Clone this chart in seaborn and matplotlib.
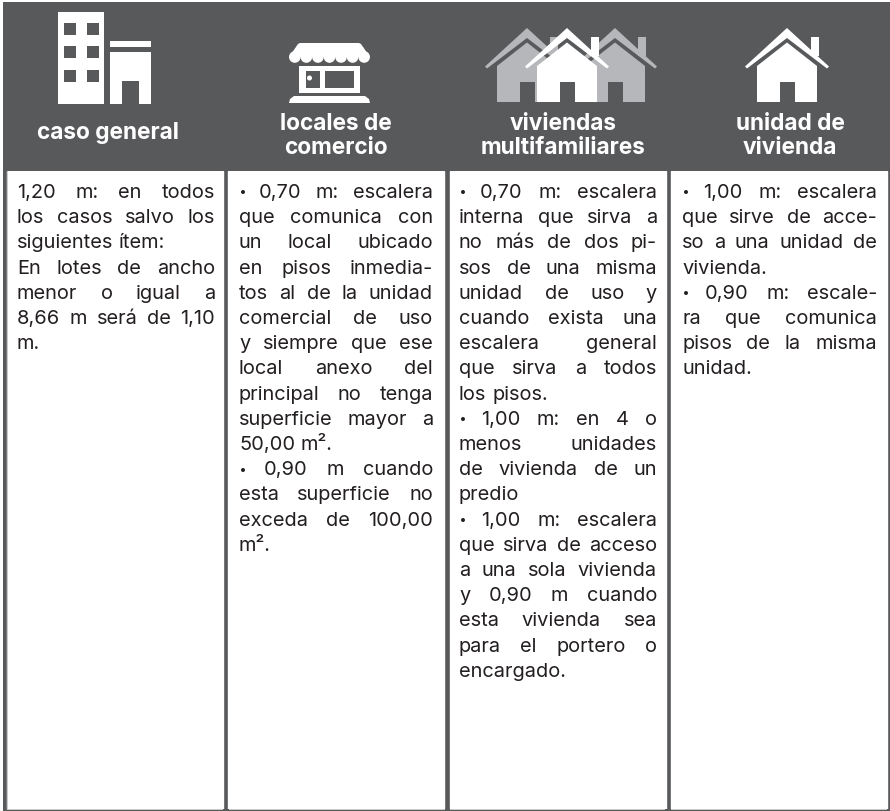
"""
Anchos minimos de escalera por tipo de edificacion - recreated with seaborn
"""

import matplotlib
matplotlib.use("Agg")
import matplotlib.pyplot as plt
import seaborn as sns
from matplotlib.patches import Rectangle, Polygon, Circle

# Data
columns = ["caso general", "locales de\ncomercio", "viviendas\nmultifamiliares", "unidad de\nvivienda"]

caso_general = [
    ["1,20 m: en todos", "los casos salvo los", "siguientes ítem:"],
    ["En lotes de ancho", "menor o igual a", "8,66 m será de 1,10", "m."],
]
locales = [
    ["· 0,70 m: escalera", "que comunica con", "un local ubicado", "en pisos inmedia-",
     "tos al de la unidad", "comercial de uso", "y siempre que ese", "local anexo del",
     "principal no tenga", "superficie mayor a", "50,00 m²."],
    ["· 0,90 m cuando", "esta superficie no", "exceda de 100,00", "m²."],
]
multifamiliares = [
    ["· 0,70 m: escalera", "interna que sirva a", "no más de dos pi-", "sos de una misma",
     "unidad de uso y", "cuando exista una", "escalera general", "que sirva a todos", "los pisos."],
    ["· 1,00 m: en 4 o", "menos unidades", "de vivienda de un", "predio"],
    ["· 1,00 m: escalera", "que sirva de acceso", "a una sola vivienda", "y 0,90 m cuando",
     "esta vivienda sea", "para el portero o", "encargado."],
]
unidad = [
    ["· 1,00 m: escalera", "que sirve de acce-", "so a una unidad de", "vivienda."],
    ["· 0,90 m: escale-", "ra que comunica", "pisos de la misma", "unidad."],
]
column_text = [caso_general, locales, multifamiliares, unidad]

# Style
DARK = "#58595b"
LIGHT = "#b6b7ba"
INK = "#231f20"
W, H = 890, 811
FONT = "Inter"
BODY_SIZE = 14.4

sns.set_theme(style="white")
plt.rcParams["font.family"] = [FONT, "DejaVu Sans"]

fig = plt.figure(figsize=(W / 100, H / 100), dpi=100, facecolor="white")
fig.add_artist(Rectangle((3 / W, 0), (W - 3) / W, (H - 2) / H, transform=fig.transFigure,
                         facecolor=DARK, edgecolor="none", zorder=-1))

# white panels are one bar per column
panel_top, panel_bottom = 171, 809
panel_ax = fig.add_axes([4.35 / W, (H - panel_bottom) / H, 885.2 / W, (panel_bottom - panel_top) / H])
panel_ax.patch.set_alpha(0)
sns.barplot(x=columns, y=[panel_bottom - panel_top] * 4, color="white", saturation=1,
            width=0.976, ax=panel_ax)
panel_ax.set_ylim(0, panel_bottom - panel_top)
panel_ax.set_axis_off()

# overlay in pixel coordinates for icons and text
ax = fig.add_axes([0, 0, 1, 1])
ax.set_xlim(0, W)
ax.set_ylim(H, 0)
ax.patch.set_alpha(0)
ax.set_axis_off()


def rect(x0, y0, x1, y1, color):
    ax.add_patch(Rectangle((x0, y0), x1 - x0, y1 - y0, facecolor=color, edgecolor="none"))


def poly(points, color):
    ax.add_patch(Polygon(points, closed=True, facecolor=color, edgecolor="none"))


def draw_building():
    rect(58, 12, 104, 104, "white")
    for wy in (23, 46, 70):
        for wx in (64, 87):
            rect(wx, wy, wx + 11.5, wy + 11.5, DARK)
    rect(110, 41, 151, 47, "white")
    rect(110, 52, 151, 104, "white")
    rect(122, 81, 139, 104, DARK)


def draw_shop():
    poly([(300, 43), (359, 43), (361, 44), (370, 57), (289, 57), (298, 44)], "white")
    for i in range(7):
        ax.add_patch(Circle((294.8 + i * 11.56, 57), 5.8, facecolor="white", edgecolor="none"))
    rect(299, 66, 360, 93, "white")
    rect(306, 71, 320, 88, DARK)
    rect(324.5, 71, 354, 88, DARK)
    ax.add_patch(Circle((309.5, 78), 2.5, facecolor="white", edgecolor="none"))
    poly([(294, 96), (365, 96), (369, 99), (370, 103), (289, 103), (290, 99)], "white")


def draw_house(cx, color, chimney_dx=24):
    rect(cx + chimney_dx, 37, cx + chimney_dx + 8, 56, color)
    poly([(cx - 42, 66.5), (cx, 28), (cx + 42, 66.5), (cx + 40, 68.5), (cx, 38), (cx - 40, 68.5)], color)
    poly([(cx, 42.5), (cx + 30, 66), (cx + 30, 102), (cx - 30, 102), (cx - 30, 66)], color)
    rect(cx - 7.5, 82, cx + 7.5, 102, DARK)


draw_building()
draw_shop()
draw_house(527, LIGHT, 23)
draw_house(615, LIGHT, 23)
draw_house(567, "white")
draw_house(787, "white")

# thin light edge under the panels
for px0, px1 in [(7, 223), (229, 445), (450, 665), (671, 887)]:
    rect(px0, 809, px1, 810, "#c9cacb")
rect(7, 171, 8, 810, "#c9cacb")

# column titles
title_x = [108, 335.5, 563, 790]
for name, tx in zip(columns, title_x):
    parts = name.split("\n")
    baselines = [139] if len(parts) == 1 else [130, 154]
    for part, by in zip(parts, baselines):
        ax.text(tx, by, part, color="white", fontsize=16.3, fontweight="bold",
                ha="center", va="baseline")

# body text, justified line by line
text_x = [(17, 215), (239, 433), (459, 657), (682, 877)]
first_baseline = 198
line_pitch = 25.2

renderer = fig.canvas.get_renderer()


def word_width(word):
    t = ax.text(0, 0, word, fontsize=BODY_SIZE, color=INK)
    w = t.get_window_extent(renderer).width
    t.remove()
    return w


space = word_width("a a") - 2 * word_width("a")

for paragraphs, (x0, x1) in zip(column_text, text_x):
    row = 0
    for para in paragraphs:
        for i, line in enumerate(para):
            by = first_baseline + row * line_pitch
            words = line.split(" ")
            widths = [word_width(w) for w in words]
            if i < len(para) - 1 and len(words) > 1:
                gap = (x1 - x0 - sum(widths)) / (len(words) - 1)
            else:
                gap = space
            x = x0
            for word, w in zip(words, widths):
                if word == "·":
                    # the bullet in the reference is heavier than the plain dot
                    ax.text(x, by + 2.5, word, fontsize=BODY_SIZE * 1.2, fontweight="bold",
                            color=INK, ha="left", va="baseline")
                else:
                    ax.text(x, by, word, fontsize=BODY_SIZE, color=INK, ha="left", va="baseline")
                x += w + gap
            row += 1

plt.savefig("out.png", dpi=100, facecolor="white")
